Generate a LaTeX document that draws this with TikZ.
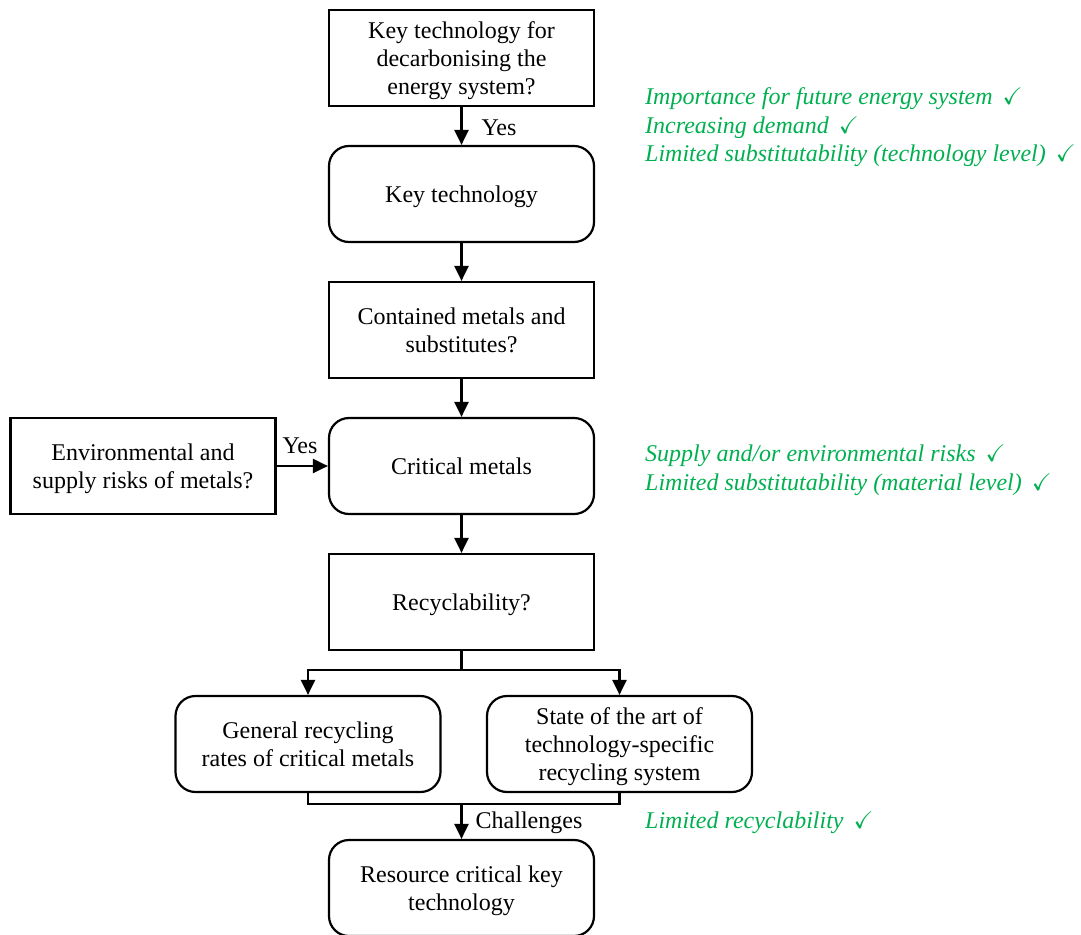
\documentclass[tikz,border=0pt]{standalone}
\usepackage{amssymb}
\usepackage{fontspec}
\setmainfont{Liberation Serif}
\usetikzlibrary{arrows.meta}
\definecolor{okgreen}{RGB}{0,176,80}
\begin{document}
\begin{tikzpicture}[x=1pt,y=-1pt,
  every node/.style={font=\fontsize{24}{28}\selectfont},
  box/.style={draw, line width=2.2pt, minimum width=265pt, minimum height=96pt, align=center, inner sep=2pt, text depth=0pt},
  rbox/.style={box, rounded corners=20pt},
  link/.style={line width=2.2pt},
  arr/.style={link, -{Triangle[length=15pt,width=14pt]}},
  note/.style={anchor=west, text=okgreen, font=\fontsize{24}{28}\selectfont\itshape, inner sep=0pt},
  tick/.style={font=\fontsize{19}{28}\selectfont},
  tag/.style={inner sep=0pt}]
\useasboundingbox (0,0) rectangle (1081,934);
\clip (0,0) rectangle (1081,934);

% main column
\node[box]  (b1) at (461.5,58)  {Key technology for\\decarbonising the\\energy system?};
\node[rbox] (b2) at (461.5,194) {Key technology};
\node[box]  (b3) at (461.5,330) {Contained metals and\\substitutes?};
\node[rbox] (b4) at (461.5,466) {Critical metals};
\node[box]  (b0) at (143,466)   {Environmental and\\supply risks of metals?};
\node[box]  (b5) at (461.5,602) {Recyclability?};
\node[rbox] (b6) at (308,744)   {General recycling\\rates of critical metals};
\node[rbox] (b7) at (619.5,744) {State of the art of\\technology-specific\\recycling system};
\node[rbox] (b8) at (461.5,888) {Resource critical key\\technology};

% connectors
\draw[arr] (b1) -- (b2);
\node[tag] at (499,128) {Yes};
\draw[arr] (b2) -- (b3);
\draw[arr] (b3) -- (b4);
\draw[arr] (b4) -- (b5);
\draw[arr] (b0) -- (b4);
\node[tag] at (300,446) {Yes};

\coordinate (split) at (461.5,670);
\draw[link] (b5.south) -- (split);
\draw[arr] (split) -| (b6.north);
\draw[arr] (split) -| (b7.north);

\coordinate (merge) at (461.5,804);
\draw[link] (b6.south) |- (merge) -| (b7.south);
\draw[arr] (merge) -- (b8.north);
\node[tag] at (529,823) {Challenges};

% criteria notes
\node[note] (n1) at (645,99)  {Importance for future energy system \,{\upshape$\checkmark$}};
\node[note] (n2) at (645,128) {Increasing demand \,{\upshape$\checkmark$}};
\node[note] (n3) at (645,156) {Limited substitutability (technology level) \,{\upshape$\checkmark$}};
\node[note] (n4) at (645,456) {Supply and/or environmental risks \,{\upshape$\checkmark$}};
\node[note] (n5) at (645,485) {Limited substitutability (material level) \,{\upshape$\checkmark$}};
\node[note] (n6) at (645,823) {Limited recyclability \,{\upshape$\checkmark$}};
\end{tikzpicture}
\end{document}
